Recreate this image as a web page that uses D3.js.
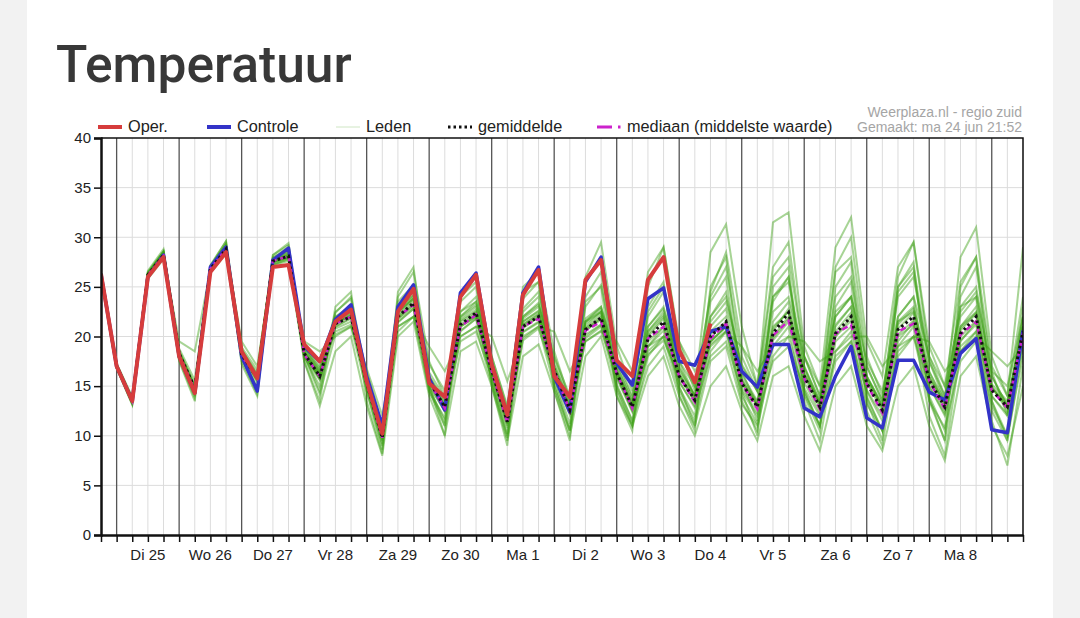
<!DOCTYPE html>
<html>
<head>
<meta charset="utf-8">
<script src="https://cdn.jsdelivr.net/npm/d3@7"></script>
<style>
  body { margin: 0; background: #f2f2f2; }
  svg { display: block; }
</style>
</head>
<body>
<svg id="chart" width="1080" height="618"></svg>
<script>
// labels under the x axis, one per day (placed at 12:00)
const dayLabels = ["Di 25", "Wo 26", "Do 27", "Vr 28", "Za 29", "Zo 30", "Ma 1",
                   "Di 2", "Wo 3", "Do 4", "Vr 5", "Za 6", "Zo 7", "Ma 8"];
const yTicks = [0, 5, 10, 15, 20, 25, 30, 35, 40];

// 6-hourly values, first one is ma 24 jun 18:00
const oper = [26.3,17,13.5,26,28,18,14.3,26.5,28.5,18.5,15.8,27,27.2,19.2,17.5,21.5,22.7,
  15.5,10.2,22.5,24.8,15.3,13.9,24,26.2,17.2,12.1,24.2,26.7,16,13.9,25.7,27.7,17.6,16,
  25.7,28,18.6,15.4,21.3];

const controle = [26.3,17,13.5,26,28.2,18,14.3,27,29,18,14.5,27.7,28.9,19,17.5,21.7,23.2,
  16,11,23,25.2,15.8,12.6,24.4,26.4,17.2,12,24.4,27,16,12.4,25.5,28,17.3,15.1,
  23.8,24.9,17.5,17.1,20.5,21,16.5,14.9,19.2,19.2,12.8,11.9,16,19,11.8,10.8,17.6,17.6,14.4,13.6,18.3,19.8,10.6,10.3,20.6];

const gemiddelde = [26.3,17,13.5,26.2,28.2,18.3,14.8,26.8,28.8,18.2,15.8,27.6,28.1,18.3,16,21.3,22,
  15.3,9.8,22,23.4,15.5,12.9,21.2,22.4,16.6,11.4,21,22,16.6,12.6,20.7,21.9,16.3,12.9,
  19.8,21.5,16,13.6,20,21.5,15.3,12.9,20.3,22.4,16,12.9,20.3,22,15.3,12.6,20.7,22,15.6,12.9,20.3,22,14.6,12.9,20.5];

const mediaan = [26.3,17,13.5,26.2,28.1,18.2,14.6,26.8,28.8,18.1,15.8,27.6,28.1,18.2,16,21.3,22,
  15.3,9.8,22,23.2,15.4,12.8,21,22.2,16.5,11.3,21,21.8,16.6,12.5,20.6,21.5,16.3,12.8,
  19.8,21,16,13.4,19.8,21.3,15.3,12.7,20.1,21.6,15.8,12.7,20.3,21.2,15.2,12.3,20.5,21.3,15.5,12.7,20.2,21.5,14.6,12.8,20.3];

const leden = [
  [26.4,17.1,13.6,26.5,28.6,18.5,15.2,27.1,29.3,18.6,16.2,28,28.7,18.9,16.8,22,23.1,
   15.9,10.5,23,24.6,16.4,13.8,22.5,24,17.5,12.4,22.8,24.5,17.8,13.5,23,25.2,17.4,13.8,
   25,29,19,14.5,28.5,31.3,21,15,27,29.5,18,14,26.5,28,17,13.5,24,26,17.5,14,23,25,16,13,20],
  [26.2,17,13.4,26.3,28.4,18.2,14.6,26.9,29,18.4,15.9,27.8,28.5,18.5,16.3,21.6,22.5,
   15.6,10.1,22.5,24,16,13.3,22,23.5,17,12,22,23.4,17.2,13,21.8,23,17,13.4,
   21,23,17,14,22,24,17,14.5,31.5,32.5,19,15,29,32,19.5,16,27,29.5,18,14,22,24,16,13,21],
  [26.1,16.8,13.2,25.8,27.8,17.6,13.8,26.4,28.3,17.5,14.2,27.2,27.6,17.5,13,18.5,20,
   13,8,20,21.5,14,10,18.5,19.5,15,9.5,18,19.2,14.5,10,18,20,14,11,
   16,18,13,10,15,17,12.5,9.5,16,17,12,8.5,15,17,11,8.5,15,17,11,7.5,16,18,11,8,15],
  [26.4,17.2,13.7,26.4,28.3,18.4,14.9,27,29.1,18.3,16,27.8,28.4,18.6,16.4,21.8,22.6,
   15.7,10.3,22.8,24.2,16,13.5,22,23.2,17.2,11.8,21.8,23,17.2,13.2,21.5,22.8,17,13.4,
   20.5,22.5,16.8,14,21,22.8,16.2,13.5,21.5,23.5,16.8,13.5,21.2,23,16,13.2,21.5,23,16.4,13.6,21,23,15.2,13.5,21],
  [26.2,16.9,13.4,26,28,18.1,14.6,26.6,28.6,18,15.5,27.4,27.9,18,15.6,20.8,21.5,
   15,9.5,21.4,22.8,15.2,12.4,20.5,21.8,16.2,11,20.4,21.4,16,12.1,20,21.2,15.8,12.4,
   19,20.6,15.4,13,19.2,20.6,14.8,12.3,19.6,21.5,15.4,12.3,19.5,21,14.6,12,20,21.2,15,12.2,19.6,21.2,14,12.2,20],
  [26.3,17.3,13.9,26.1,28.1,19.5,18.5,26.7,28.8,19.5,17,27.5,28,19.5,18.5,20,21,
   16.8,12,21,22,19,16.5,20,21,20,15.5,20,21,20.5,16.5,19.5,20.5,19.5,16.5,
   19,20,19.5,16.5,19,20.5,19,16.5,19,20,19.5,17.5,18.5,20,20,17,19,20,19.5,16.5,18.5,20,18.5,17,19],
  [26.3,16.9,13.2,26.3,28.5,18,14,27,29.4,17.8,14.8,27.9,29,18.2,14.5,22.5,23.8,
   14.5,9,23.5,25.2,15,11,23.5,25,15.5,10,23.8,25.5,15,10.5,24,26.5,14.5,11,
   23,25.5,14,10.5,23.5,26,14.5,10,25,27,14,10.5,25,27.5,13.5,9.5,25,27.5,13.5,9.5,25,28,13.5,9.5,22],
  [26.2,17,13.5,26,27.9,18.2,14.8,26.5,28.5,18.4,15.8,27.3,27.8,18.8,16.5,20.5,21.2,
   15.5,10.2,21,22,15.8,12.7,19.5,20.5,16,11.5,19.6,20.8,16.2,12.4,19.5,20.6,16,12.6,
   18.2,19.6,16,13.4,19.5,21,15.6,13,21,22.5,16.4,13.2,22,24,16,12.8,24.5,26.5,16.5,13,24,27,16.5,12,23],
  [26.4,17.1,13.6,26.2,28.2,18.3,14.9,26.9,28.9,18.1,15.8,27.6,28.2,18.2,15.8,21.2,22.3,
   15.3,9.7,22.2,23.8,15.5,12.8,21.5,22.5,16.5,11.2,21.5,22.6,16.5,12.5,21.3,22.5,16.4,12.9,
   20.2,22,16.2,13.6,20.5,22,15.4,13,20.8,22.5,16,12.8,20.5,22.4,15.4,12.5,20.8,22.4,15.8,13,20.6,22.3,14.8,13,21],
  [26.3,17,13.5,26.6,28.8,18.6,15,27.2,29.6,18.7,16.2,28.2,29.2,19,16.6,22.4,24,
   16,10.8,24,26.5,17.5,13.9,24.5,26,18,12.8,25,26.5,18.5,13.6,26,29.5,19,14.5,
   26.5,29,19.5,15,24,27,18,14.5,24,25.5,17,13.5,22.5,24,16,13,21.5,22.5,15.5,12.5,21,22.5,15,12.5,22],
  [26.2,16.9,13.4,26.1,28.1,18.2,14.5,26.7,28.7,18,15.3,27.5,28,18,15,21,21.8,
   14.8,9.2,21.8,23.2,14.8,11.5,21,22,15.6,10.2,20.8,22,15.8,11.2,20.5,22,15.2,11.5,
   19,21,14.8,12,19.5,21,14,11.2,20,22,14.6,11,20,22,13.8,10.5,19.5,21.5,13.8,9.5,19.5,21.5,12.5,9.5,19],
  [26.4,17.2,13.8,26.4,28.5,18.8,15.6,27,29.1,18.9,16.6,27.8,28.6,19.2,17,22,22.8,
   16.5,11,22.8,24.2,17.2,14.5,22.5,23.5,18,13,22,23.2,18,14,21.5,23,17.8,14,
   21,22.8,17.5,15,21.5,23.5,17.2,14.5,22.5,24,18,15,22,24,17.5,14.5,22,24,18,15,22.5,24.5,16.5,15,22],
  [26.3,17,13.5,26.2,28.2,18.1,14.7,26.8,28.8,18.1,15.7,27.6,28,18.3,15.9,21.4,22.1,
   15.2,9.6,21.5,22.8,15,12.5,20.6,21.8,16.2,11.3,20.5,21.5,16.6,12.5,20.2,21.2,16,12.5,
   18.5,20,15.5,12.8,18,19.5,14.5,12,17.5,19,14.8,12,18,19.5,14.5,11.5,18.5,20,15,12,19,20.5,14,12,19],
  [26.3,17.1,13.6,26.3,28.3,18.4,14.9,26.9,28.9,18.3,15.9,27.7,28.2,18.5,16.2,21.6,22.4,
   15.4,9.9,22,23.6,15.8,12.9,21.8,23,16.8,11.6,21.5,22.5,16.8,12.8,21,22.5,16.6,13,
   22,24.5,17.5,14,24.5,28.5,19,15,26,28,18,14,24,26,17,13.5,26,29.5,19,15,25.5,28,17,14,24],
  [26.2,16.9,13.3,26,27.9,17.9,14.2,26.5,28.5,17.8,14.8,27.2,27.8,18,14.2,20.2,21,
   14.5,8.6,20.5,22,14.5,11,20,21,15.2,9.8,19.8,21,15,10.5,19.8,21,14.8,11,
   18,20,14.5,11.5,18.5,20.5,13.5,10.5,19,21,13.5,9.5,18.5,20.5,12.5,9,19,21,12,8,18.5,20.5,11.5,7,17],
  [26.4,17.1,13.5,26.1,28.1,18.2,14.7,26.8,28.7,18.2,15.7,27.5,28,18.2,15.8,21,21.9,
   15.2,9.8,22.5,23.8,15.5,13,21,22.2,16.4,11.6,21.2,22.3,16.4,12.4,20.8,21.8,16.4,13,
   20,21.8,16,13.8,20.2,21.5,15.6,13.2,20.5,22.8,16.2,13.2,21,23,15.6,12.8,21.2,22.8,16,13.2,20.8,22.4,14.8,13,21],
  [26.3,17,13.5,26.4,28.4,18.3,14.8,27,29,18.4,16,27.7,28.3,18.4,16.1,21.5,22.2,
   15.4,10,22.4,23.9,15.7,13,21.6,22.7,16.9,11.6,21.2,22.2,16.6,12.7,20.8,22.2,16.5,12.8,
   20.5,22.2,16.2,13.5,22,24.5,16.5,13,23.5,26,17,13,27,30,18,14,25,27,17.5,13.5,28,31,18,14,29],
  [26.3,16.8,13.1,26.2,28.6,17.5,13.5,27.1,29.6,17.2,14,28.2,29.4,17.5,13.5,23,24.5,
   13.5,8.2,24.5,27,15,10,24,25.5,15,9,24.5,25.5,14.5,9.5,23.5,25,14,10.5,
   22.5,25,15,11,25,28,15.5,11.5,24,26,14.5,11,23,25.5,14,10.5,22,24,14,10.5,23,24,13.5,10,21],
  [26.3,17.1,13.6,26.2,28.2,18.3,14.8,26.9,28.8,18.3,15.9,27.6,28.1,18.4,16,21.4,22,
   15.4,9.9,22,23.3,15.8,13.1,21.2,22.4,16.8,11.7,21,22,16.9,12.9,20.6,21.7,16.5,13.2,
   19.5,21,16.5,14,19.5,21,15.8,13.4,19.8,21.8,16.2,13.4,20,21.6,15.8,13,20.2,21.6,15.9,13.4,20,21.6,14.9,13.3,20.5],
  [26.3,17,13.6,26.3,28.3,18.2,14.9,26.8,28.9,18.1,15.6,27.7,28.2,18.3,15.7,21.3,22.1,
   15.2,9.8,21.8,23,14.4,11.8,21,22,15.8,10.8,22.5,24,15.5,10.6,21.5,22.5,15,11.5,
   17,19,14,11,17.5,19,13.2,11,18,20,14.2,11,17.5,19.5,13.2,10.5,18,20,13.5,10.8,17.5,19.5,13,10,18]
];

const W = 1080, H = 618;
const svg = d3.select("#chart");

// white card on grey page
svg.append("rect").attr("x", 27).attr("y", 0).attr("width", 1026).attr("height", H).attr("fill", "#fff");

svg.append("text").attr("x", 56).attr("y", 82)
  .style("font-family", "Roboto").style("font-weight", 500).style("font-size", "51.5px")
  .attr("fill", "#383838").text("Temperatuur");

const start = new Date(2024, 5, 24, 18);
const times = controle.map((d, i) => d3.timeHour.offset(start, i * 6));
const end = times[times.length - 1];

const x = d3.scaleTime().domain([start, end]).range([101, 1023]);
const y = d3.scaleLinear().domain([0, 40]).range([535, 138]);

const font = "'Liberation Sans', Arial, sans-serif";

// grid
const grid = svg.append("g");
grid.selectAll(".hg").data(yTicks.slice(1, -1)).join("line")
  .attr("x1", 101).attr("x2", 1023).attr("y1", d => y(d)).attr("y2", d => y(d))
  .attr("stroke", "#dcdcdc").attr("stroke-width", 1);
grid.selectAll(".vg").data(times.slice(1)).join("line")
  .attr("x1", d => x(d)).attr("x2", d => x(d)).attr("y1", 138).attr("y2", 535)
  .attr("stroke", d => d.getHours() === 0 ? "#555" : "#dcdcdc")
  .attr("stroke-width", d => d.getHours() === 0 ? 1.3 : 1);

// data lines
svg.append("clipPath").attr("id", "plot").append("rect")
  .attr("x", 101).attr("y", 138).attr("width", 922).attr("height", 397);
const plot = svg.append("g").attr("clip-path", "url(#plot)");
const line = d3.line().x((d, i) => x(times[i])).y(d => y(d));

plot.selectAll(".lid").data(leden).join("path")
  .attr("d", line).attr("fill", "none")
  .attr("stroke", "rgb(60,160,20)").attr("stroke-opacity", 0.45).attr("stroke-width", 2);

plot.append("path").datum(controle).attr("d", line).attr("fill", "none")
  .attr("stroke", "#3333c8").attr("stroke-width", 3.5).attr("stroke-linejoin", "round");
plot.append("path").datum(mediaan).attr("d", line).attr("fill", "none")
  .attr("stroke", "#cc22cc").attr("stroke-width", 2.5).attr("stroke-dasharray", "6,4");
plot.append("path").datum(gemiddelde).attr("d", line).attr("fill", "none")
  .attr("stroke", "#111").attr("stroke-width", 3).attr("stroke-dasharray", "2.5,3");
plot.append("path").datum(oper).attr("d", line).attr("fill", "none")
  .attr("stroke", "#d63c3c").attr("stroke-width", 4).attr("stroke-linejoin", "round");

// axes
const yAxis = svg.append("g").attr("transform", "translate(101,0)")
  .call(d3.axisLeft(y).tickValues(yTicks).tickSize(7).tickPadding(3));
const xAxis = svg.append("g").attr("transform", "translate(0,535)")
  .call(d3.axisBottom(x).tickValues(times).tickSize(7).tickSizeOuter(0).tickFormat(""));
[yAxis, xAxis].forEach(a => {
  a.select(".domain").attr("stroke", "#111").attr("stroke-width", 2.5);
  a.selectAll(".tick line").attr("stroke", "#111").attr("stroke-width", 1.5);
  a.selectAll("text").style("font-family", font).style("font-size", "15px").attr("fill", "#222");
});

svg.append("g").selectAll("text").data(dayLabels).join("text")
  .attr("x", (d, i) => x(d3.timeHour.offset(d3.timeDay.offset(d3.timeDay.ceil(start), i), 12)))
  .attr("y", 560).attr("text-anchor", "middle")
  .style("font-family", font).style("font-size", "15px").attr("fill", "#222")
  .text(d => d);

// frame top and right
svg.append("path").attr("d", "M101,138H1023V535").attr("fill", "none")
  .attr("stroke", "#111").attr("stroke-width", 1.5);

// legend
const legend = [
  { label: "Oper.", x: 98, color: "#d63c3c", w: 4, dash: null },
  { label: "Controle", x: 207, color: "#3333c8", w: 4, dash: null },
  { label: "Leden", x: 336, color: "#cfe6c4", w: 1, dash: null },
  { label: "gemiddelde", x: 448, color: "#111", w: 3, dash: "2.5,3" },
  { label: "mediaan (middelste waarde)", x: 597, color: "#cc22cc", w: 3, dash: "15,6,2.5,20" }
];
const lg = svg.append("g").selectAll("g").data(legend).join("g");
lg.append("line").attr("x1", d => d.x).attr("x2", d => d.x + 24).attr("y1", 127).attr("y2", 127)
  .attr("stroke", d => d.color).attr("stroke-width", d => d.w).attr("stroke-dasharray", d => d.dash);
lg.append("text").attr("x", d => d.x + 30).attr("y", 132)
  .style("font-family", font).style("font-size", "16.3px").attr("fill", "#222").text(d => d.label);

svg.append("text").attr("x", 1022).attr("y", 117).attr("text-anchor", "end")
  .style("font-family", font).style("font-size", "14px").attr("fill", "#a5a5a5")
  .text("Weerplaza.nl - regio zuid");
svg.append("text").attr("x", 1022).attr("y", 132).attr("text-anchor", "end")
  .style("font-family", font).style("font-size", "14px").attr("fill", "#a5a5a5")
  .text("Gemaakt: ma 24 jun 21:52");
</script>
</body>
</html>
